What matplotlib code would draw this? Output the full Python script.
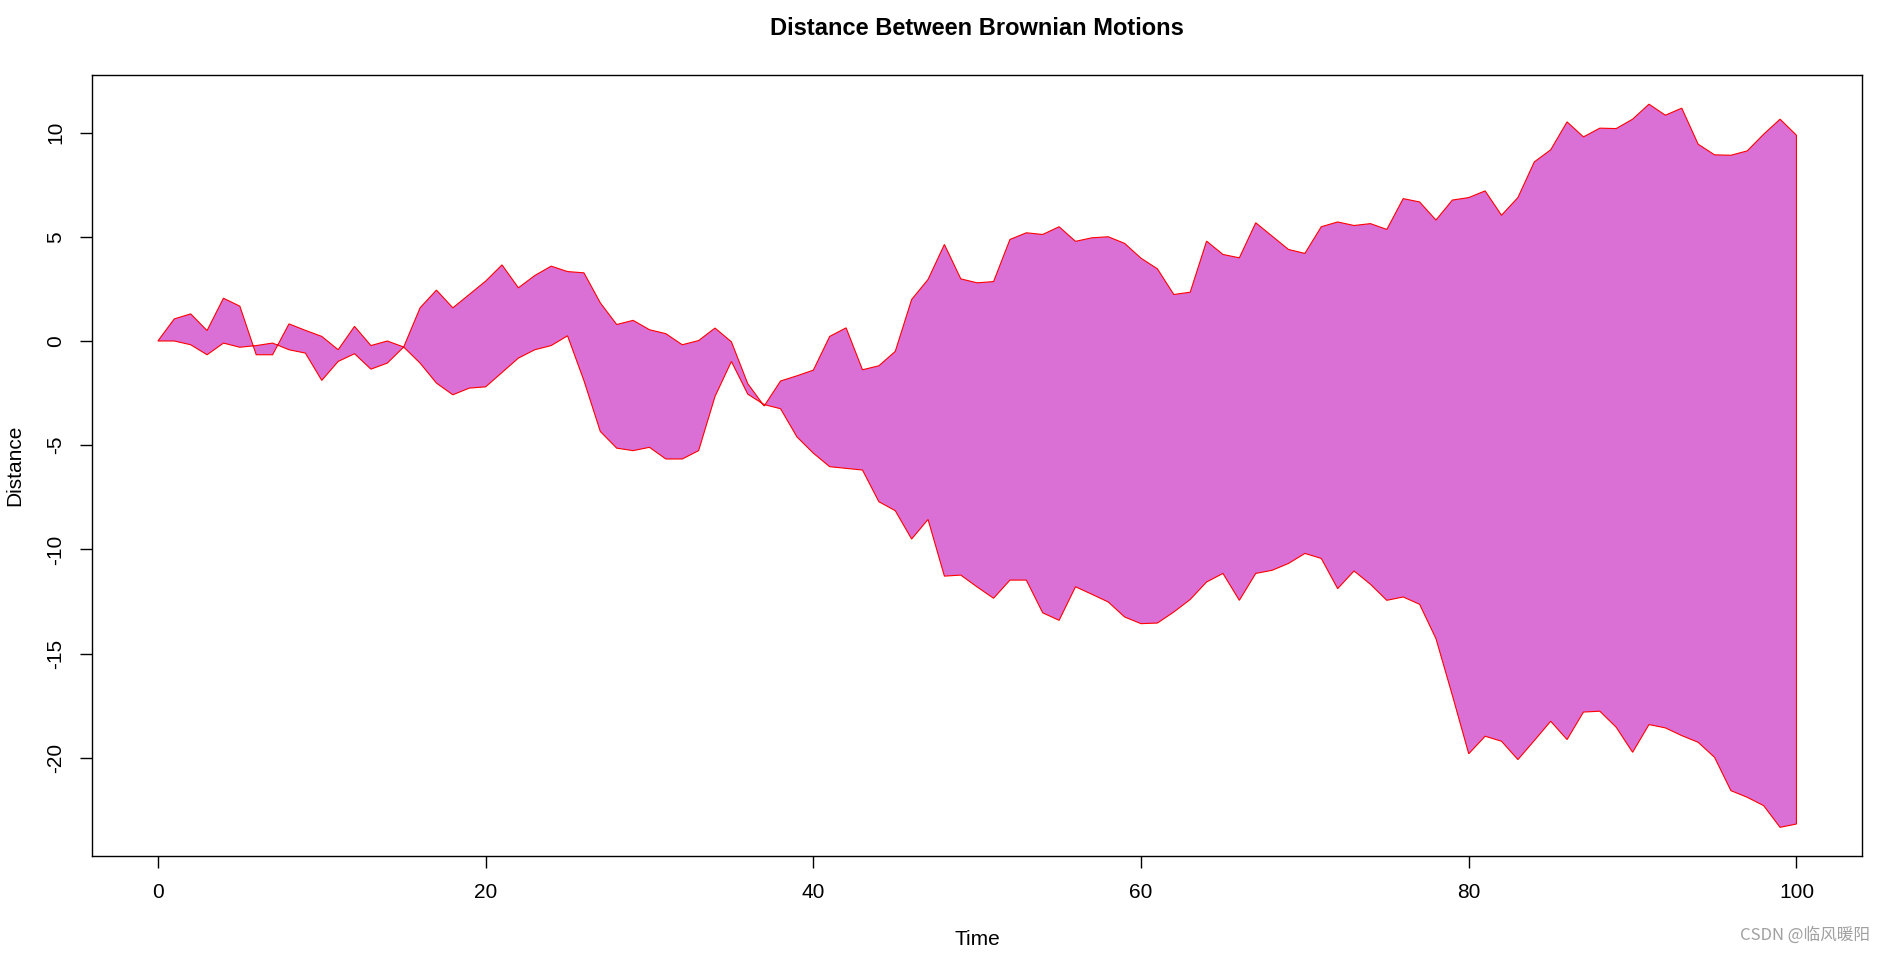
import numpy as np
import matplotlib
matplotlib.use('Agg')
import matplotlib.pyplot as plt

plt.rcParams['font.family'] = ['Liberation Sans', 'DejaVu Sans']

# time steps and the two walks
time = np.arange(0, 101)
walk_a = [0, 1.06, 1.30, 0.50, 2.05, 1.67, -0.66, -0.66, 0.82, 0.51,
          0.22, -0.42, 0.70, -0.22, 0.0, -0.29, 1.59, 2.44, 1.59, 2.23,
          2.87, 3.65, 2.55, 3.14, 3.59, 3.33, 3.27, 1.83, 0.79, 0.99,
          0.54, 0.35, -0.18, 0.02, 0.62, -0.04, -2.05, -3.12, -1.92, -1.67,
          -1.40, 0.22, 0.63, -1.38, -1.19, -0.50, 1.99, 2.95, 4.63, 2.98,
          2.79, 2.85, 4.87, 5.19, 5.11, 5.48, 4.78, 4.95, 5.00, 4.68,
          3.97, 3.46, 2.23, 2.34, 4.79, 4.15, 3.99, 5.67, 5.03, 4.39,
          4.20, 5.48, 5.71, 5.54, 5.63, 5.35, 6.83, 6.67, 5.80, 6.76,
          6.88, 7.20, 6.03, 6.88, 8.59, 9.17, 10.51, 9.79, 10.21, 10.19,
          10.64, 11.36, 10.83, 11.17, 9.44, 8.93, 8.91, 9.12, 9.92, 10.64,
          9.87]
walk_b = [0, 0, -0.18, -0.66, -0.10, -0.30, -0.22, -0.10, -0.42, -0.58,
          -1.89, -0.98, -0.61, -1.35, -1.06, -0.29, -1.06, -2.02, -2.58, -2.26,
          -2.20, -1.51, -0.82, -0.42, -0.22, 0.25, -1.90, -4.34, -5.14, -5.26,
          -5.10, -5.66, -5.66, -5.26, -2.66, -0.98, -2.55, -3.05, -3.25, -4.60,
          -5.38, -6.03, -6.11, -6.19, -7.71, -8.14, -9.50, -8.56, -11.28, -11.23,
          -11.80, -12.34, -11.47, -11.47, -13.04, -13.40, -11.79, -12.15, -12.52, -13.24,
          -13.56, -13.53, -13.00, -12.40, -11.56, -11.15, -12.44, -11.15, -11.00, -10.67,
          -10.19, -10.43, -11.88, -11.03, -11.67, -12.44, -12.28, -12.63, -14.28, -17.00,
          -19.80, -18.96, -19.20, -20.08, -19.17, -18.24, -19.12, -17.80, -17.76, -18.53,
          -19.73, -18.40, -18.56, -18.93, -19.25, -19.97, -21.57, -21.89, -22.29, -23.33,
          -23.17]

xticks = [0, 20, 40, 60, 80, 100]
yticks = [-20, -15, -10, -5, 0, 5, 10]

fig = plt.figure(figsize=(18.85, 9.55), dpi=100)
ax = fig.add_axes([0.049, 0.1034, 0.9388, 0.8178])

poly_x = np.concatenate([time, time[::-1]])
poly_y = np.concatenate([walk_a, walk_b[::-1]])
ax.fill(poly_x, poly_y, facecolor='orchid', edgecolor='red', linewidth=0.8)

# R style 4% padding
lo = min(min(walk_a), min(walk_b))
hi = max(max(walk_a), max(walk_b))
pad = 0.04 * (hi - lo)
ax.set_xlim(-4, 104)
ax.set_ylim(lo - pad, hi + pad)

ax.set_xticks(xticks)
ax.set_yticks(yticks)
ax.set_yticklabels([str(v) for v in yticks], rotation=90, va='center')
ax.tick_params(axis='both', length=8.5, width=1, labelsize=15, pad=11)
for s in ax.spines.values():
    s.set_linewidth(1)

ax.set_title('Distance Between Brownian Motions', fontsize=17, fontweight='bold', pad=29)
ax.set_xlabel('Time', fontsize=15, labelpad=20)
ax.set_ylabel('Distance', fontsize=15, labelpad=16)

fig.text(0.992, 0.012, 'CSDN @临风暖阳', ha='right', va='bottom', fontsize=12,
         color='#a0a0a0', family=['Noto Sans CJK SC', 'DejaVu Sans'])

fig.savefig('out.png', dpi=100)
